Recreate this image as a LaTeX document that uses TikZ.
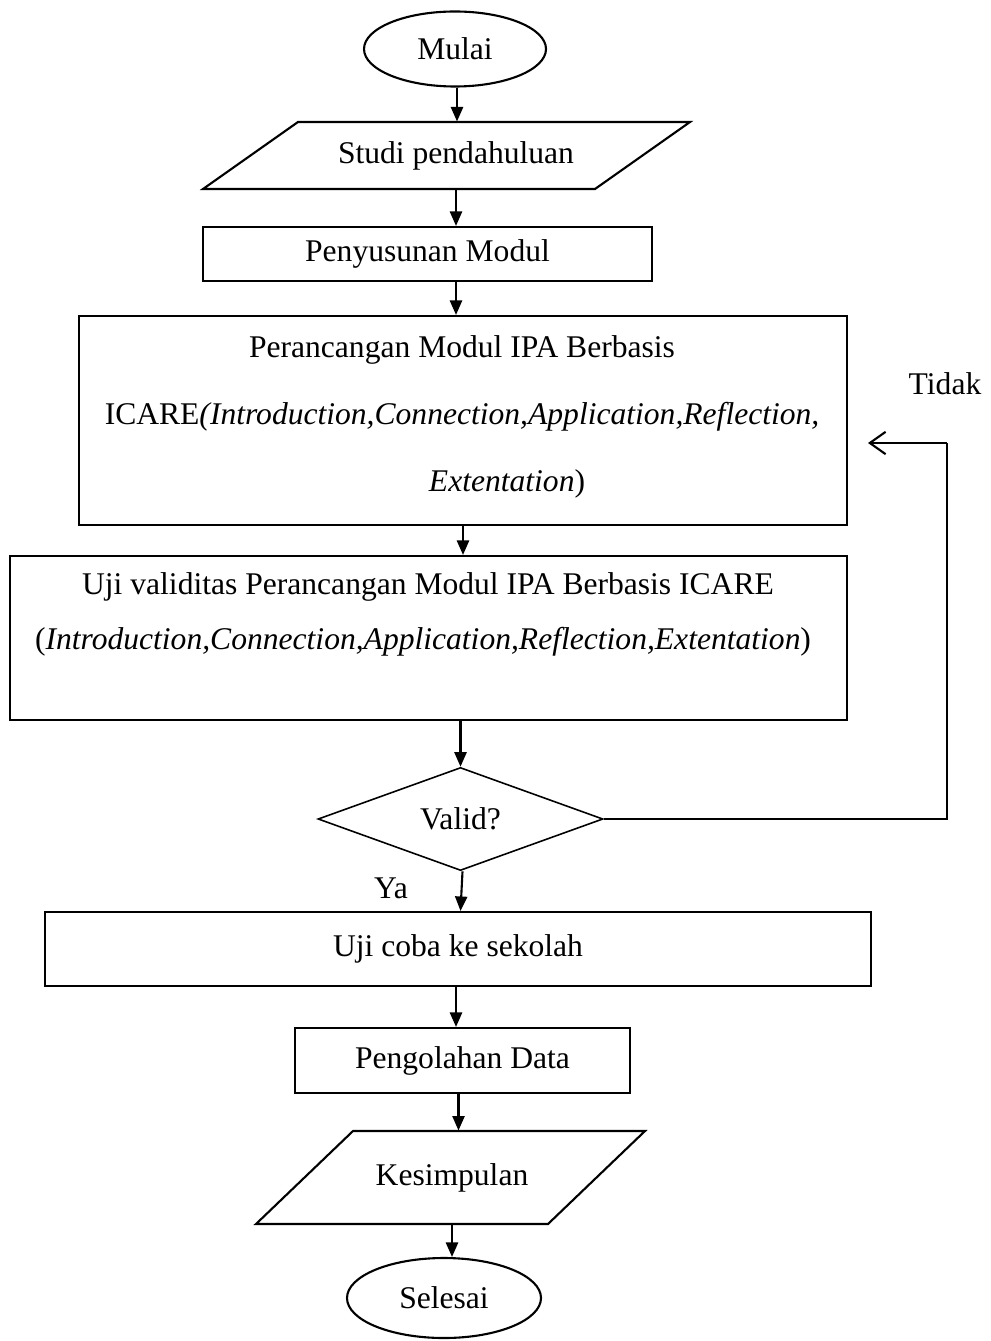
\documentclass[tikz,border=0pt]{standalone}
\usepackage{fontspec}
\setmainfont{Liberation Serif}
\usetikzlibrary{shapes.geometric,arrows.meta}
\def\PX{0.38pt}

\begin{document}
\begin{tikzpicture}[x=0.38pt,y=-0.38pt,
    font=\fontsize{12}{14}\selectfont,
    box/.style={draw,line width=0.8pt,rectangle,inner sep=0pt},
    flow/.style={line width=0.8pt,-{Triangle[length=5.5pt,width=4.6pt]}}
]

\useasboundingbox (0,0) rectangle (990,1341);

% =====================================================
% START
% =====================================================
\node[draw,ellipse,line width=0.8pt,inner sep=0pt,
    minimum width=182*\PX,minimum height=75*\PX] (mulai) at (455,49) {Mulai};

% =====================================================
% PRELIMINARY STUDY (input)
% =====================================================
\draw[line width=0.8pt] (203,189) -- (595,189) -- (690,122) -- (298,122) -- cycle;
\node[inner sep=0pt,minimum height=67*\PX] (studi) at (456,155.5) {Studi pendahuluan};

% =====================================================
% MODULE BOXES
% =====================================================
\node[box,minimum width=449*\PX,minimum height=54*\PX] (susun) at (427.5,254) {Penyusunan Modul};

\node[box,minimum width=768*\PX,minimum height=209*\PX] (rancang) at (463,420.5) {};
\node[inner sep=0pt] (rancangA) at (462,350) {Perancangan Modul IPA Berbasis};
\node[inner sep=0pt] (rancangB) at (462,417)
    {ICARE\textit{(Introduction,Connection,Application,Reflection,}};
\node[inner sep=0pt] (rancangC) at (507,484) {\textit{Extentation})};

\node[box,minimum width=837*\PX,minimum height=164*\PX] (uji) at (428.5,638) {};
\node[inner sep=0pt] (ujiA) at (428,587) {Uji validitas Perancangan Modul IPA Berbasis ICARE};
\node[inner sep=0pt] (ujiB) at (423,642)
    {(\textit{Introduction,Connection,Application,Reflection,Extentation})};

% =====================================================
% DECISION
% =====================================================
\node[draw,diamond,line width=0.6pt,inner sep=0pt,
    minimum width=285*\PX,minimum height=98*\PX] (cek) at (460.5,819) {Valid?};

\node (ya) at (391,888) {Ya};
\node (tidak) at (945,384) {Tidak};

% =====================================================
% TRIAL, DATA, CONCLUSION
% =====================================================
\node[box,minimum width=826*\PX,minimum height=74*\PX] (coba) at (458,949) {Uji coba ke sekolah};
\node[box,minimum width=335*\PX,minimum height=65*\PX] (olah) at (462.5,1060.5) {Pengolahan Data};

\draw[line width=0.8pt] (256,1224) -- (548,1224) -- (645,1131) -- (353,1131) -- cycle;
\node[inner sep=0pt,minimum height=93*\PX] (simpul) at (452,1177.5) {Kesimpulan};

\node[draw,ellipse,line width=0.8pt,inner sep=0pt,
    minimum width=194*\PX,minimum height=80*\PX] (selesai) at (444,1298) {Selesai};

% =====================================================
% CONNECTORS
% =====================================================
\draw[flow] ([xshift=2*\PX]mulai.south) -- ([xshift=2*\PX]mulai.south |- studi.north);
\draw[flow] (studi.south) -- (studi.south |- susun.north);
\draw[flow] (studi.south |- susun.south) -- (studi.south |- rancang.north);
\draw[flow] (rancang.south) -- (rancang.south |- uji.north);
\draw[flow] (cek.north |- uji.south) -- (cek.north);
\draw[flow] ([xshift=2*\PX]cek.south) -- (cek.south |- coba.north);
\draw[flow] (studi.south |- coba.south) -- (studi.south |- olah.north);
\draw[flow] ([xshift=-4*\PX]olah.south) -- ([xshift=-4*\PX]olah.south |- simpul.north);
\draw[flow] (simpul.south) -- (simpul.south |- selesai.north);

% back to design when not valid
\coordinate (balik) at (947,443);
\coordinate (ujung) at (868,443);
\draw[line width=0.6pt] (cek.east) -| (balik);
\draw[line width=0.8pt,-{Straight Barb[length=6pt,width=8.5pt]}] (balik) -- (ujung);

\end{tikzpicture}
\end{document}
